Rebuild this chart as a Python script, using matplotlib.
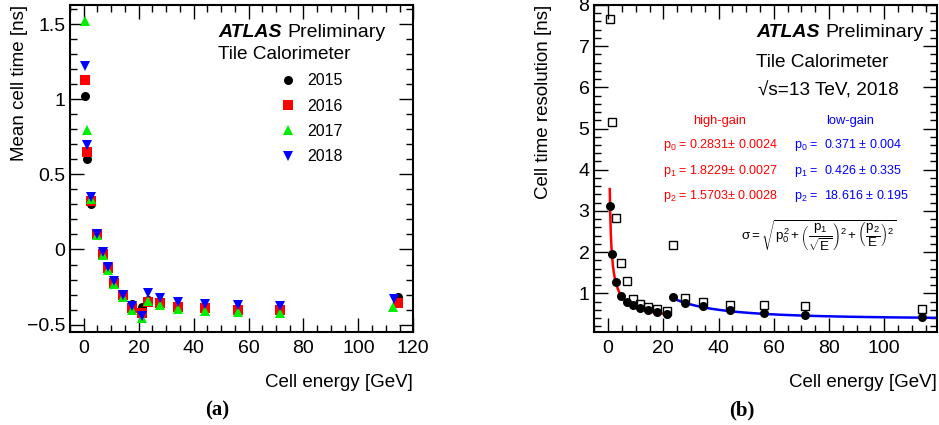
import numpy as np
import matplotlib
matplotlib.use("Agg")
from matplotlib import pyplot as plt
from matplotlib.ticker import MultipleLocator

plt.rcParams['font.family'] = ['Liberation Sans', 'DejaVu Sans']
plt.rcParams['mathtext.fontset'] = 'custom'
plt.rcParams['mathtext.rm'] = 'Liberation Sans'
plt.rcParams['mathtext.it'] = 'Liberation Sans'
plt.rcParams['mathtext.bf'] = 'Liberation Sans:bold'

# ---- data (a): mean cell time vs energy, per year
energy = [0.6, 1.3, 2.8, 4.9, 6.9, 8.9, 11.2, 14.3, 17.6, 21.2, 23.3, 27.8, 34.5, 44.3, 56.2, 71.4]
years = ["2015", "2016", "2017", "2018"]
e_last = [114.5, 114.5, 112.5, 113.0]   # last bin sits at slightly different energy per year
t2015 = [1.02, 0.60, 0.30, 0.10, -0.03, -0.12, -0.215, -0.30, -0.365, -0.385, -0.335, -0.345, -0.375, -0.39, -0.39, -0.40, -0.316]
t2016 = [1.13, 0.65, 0.325, 0.10, -0.03, -0.125, -0.22, -0.305, -0.39, -0.425, -0.35, -0.355, -0.38, -0.393, -0.40, -0.404, -0.356]
t2017 = [1.525, 0.795, 0.335, 0.095, -0.035, -0.135, -0.23, -0.315, -0.40, -0.455, -0.345, -0.37, -0.395, -0.41, -0.415, -0.42, -0.382]
t2018 = [1.225, 0.695, 0.35, 0.105, -0.02, -0.115, -0.21, -0.30, -0.375, -0.44, -0.29, -0.325, -0.348, -0.36, -0.37, -0.378, -0.327]

# ---- data (b): cell time resolution
e_res = [0.6, 1.4, 2.9, 4.8, 7.0, 9.0, 11.4, 14.4, 17.7, 21.4, 23.6, 27.7, 34.4, 44.3, 56.3, 71.4, 113.5]
res_2018 = [3.12, 1.95, 1.28, 0.94, 0.79, 0.71, 0.64, 0.595, 0.54, 0.49, 0.90, 0.77, 0.68, 0.59, 0.51, 0.47, 0.42]
res_open = [7.65, 5.15, 2.84, 1.74, 1.30, 0.86, 0.73, 0.66, 0.63, 0.56, 2.18, 0.88, 0.79, 0.725, 0.71, 0.68, 0.63]
hg_par = [0.2831, 1.8229, 1.5703]
lg_par = [0.371, 0.426, 18.616]
hg_err = ["0.0024", "0.0027", "0.0028"]
lg_err = ["0.004", "0.335", "0.195"]
hg_range = [0.6, 22.5]
lg_range = [23.3, 119.0]

W, H = 939, 425
fig = plt.figure(figsize=(W/100, H/100), dpi=100)

def box(x0, y0, x1, y1):
    return [x0/W, 1 - y1/H, (x1 - x0)/W, (y1 - y0)/H]

def fxy(px, py):
    return px/W, 1 - py/H

def root_style(ax, xmaj, xmin, ymaj, ymin):
    ax.xaxis.set_major_locator(MultipleLocator(xmaj))
    ax.xaxis.set_minor_locator(MultipleLocator(xmin))
    ax.yaxis.set_major_locator(MultipleLocator(ymaj))
    ax.yaxis.set_minor_locator(MultipleLocator(ymin))
    ax.tick_params(which="both", direction="in", top=True, right=True, labelsize=14, width=1.0)
    ax.tick_params(which="major", length=10)
    ax.tick_params(which="minor", length=5)
    ax.tick_params(axis="x", pad=6)
    for s in ax.spines.values():
        s.set_linewidth(1.5)

renderer = fig.canvas.get_renderer()

def atlas_label(px, py, size=14):
    t = fig.text(*fxy(px, py), "ATLAS", fontsize=size, fontweight="bold", style="italic")
    bb = t.get_window_extent(renderer)
    fig.text(bb.x1/W + 6/W, fxy(px, py)[1], "Preliminary", fontsize=size)

# ---------------- panel (a)
ax1 = fig.add_axes(box(70, 5, 413.3, 332))
series = [t2015, t2016, t2017, t2018]
markers = ["o", "s", "^", "v"]
colors = ["black", "#ff0000", "#00ee00", "#0000ff"]
sizes = [6.5, 6.5, 7, 7]
for yr, vals, m, c, ms, el in zip(years, series, markers, colors, sizes, e_last):
    ax1.plot(energy + [el], vals, linestyle="none", marker=m, color=c, markersize=ms,
             markeredgewidth=0, label=yr)
ax1.set_xlim(-5, 120)
ax1.set_ylim(-0.55, 1.63)
root_style(ax1, 20, 5, 0.5, 0.1)
ax1.yaxis.set_major_formatter(plt.FuncFormatter(lambda v, p: ("%g" % v).replace("-", "\u2212")))
ax1.set_ylabel("Mean cell time [ns]", fontsize=13.5, loc="top")
ax1.yaxis.set_label_coords(-0.122, 1.0)
ax1.set_xlabel("Cell energy [GeV]", fontsize=13.5, loc="right", labelpad=12)

atlas_label(218, 37)
fig.text(*fxy(218, 59), "Tile Calorimeter", fontsize=13.7)
leg = ax1.legend(loc="upper left", bbox_to_anchor=(0.585, 0.815), frameon=False, fontsize=11.5,
                 handletextpad=0.6, labelspacing=0.64, handlelength=1.2, borderpad=0)

# ---------------- panel (b)
ax2 = fig.add_axes(box(594.3, 5, 936.7, 332))

def sigma(e, p):
    return np.sqrt(p[0]**2 + (p[1]/np.sqrt(e))**2 + (p[2]/e)**2)

e_hg = np.linspace(hg_range[0], hg_range[1], 400)
e_lg = np.linspace(lg_range[0], lg_range[1], 400)
ax2.plot(e_hg, sigma(e_hg, hg_par), color="#ff0000", lw=1.8, zorder=2)
ax2.plot(e_lg, sigma(e_lg, lg_par), color="#0000ff", lw=1.8, zorder=2)
ax2.plot(e_res, res_open, linestyle="none", marker="s", markersize=6, markerfacecolor="none",
         markeredgecolor="black", markeredgewidth=1.0, zorder=3)
ax2.plot(e_res, res_2018, linestyle="none", marker="o", markersize=6.5, color="black",
         markeredgewidth=0, zorder=4)
ax2.set_xlim(-5, 119)
ax2.set_ylim(0.06, 8)
root_style(ax2, 20, 5, 1, 0.2)
ax2.set_ylabel("Cell time resolution [ns]", fontsize=13.5, loc="top")
ax2.yaxis.set_label_coords(-0.124, 1.0)
ax2.set_xlabel("Cell energy [GeV]", fontsize=13.5, loc="right", labelpad=12)

atlas_label(756, 37)
fig.text(*fxy(756, 67), "Tile Calorimeter", fontsize=13.7)
fig.text(*fxy(758, 96), "\u221as=13 TeV, 2018", fontsize=13.7)

red, blue = "#ff0000", "#0000ff"
fig.text(*fxy(720, 124), "high-gain", fontsize=9.3, color=red, ha="center")
fig.text(*fxy(850, 124), "low-gain", fontsize=9.3, color=blue, ha="center")
for i, py in enumerate([148, 174, 199]):
    fig.text(*fxy(663, py), r"p$_{%d}$ = %.4f$\pm$ %s" % (i, hg_par[i], hg_err[i]),
             fontsize=9, color=red)
    fig.text(*fxy(794, py), r"p$_{%d}$ =  %s $\pm$ %s" % (i, ("%.3f" % lg_par[i]), lg_err[i]),
             fontsize=9, color=blue)
fig.text(*fxy(741, 236), r"$\sigma = \sqrt{p_0^2 + \left(\dfrac{p_1}{\sqrt{E}}\right)^2 + \left(\dfrac{p_2}{E}\right)^2}$",
         fontsize=9.6, va="center")

fig.text(*fxy(217, 410), "(a)", fontsize=15, fontweight="bold", family="Liberation Serif", ha="center", va="center")
fig.text(*fxy(742, 410), "(b)", fontsize=15, fontweight="bold", family="Liberation Serif", ha="center", va="center")

fig.savefig("out.png", dpi=100)
